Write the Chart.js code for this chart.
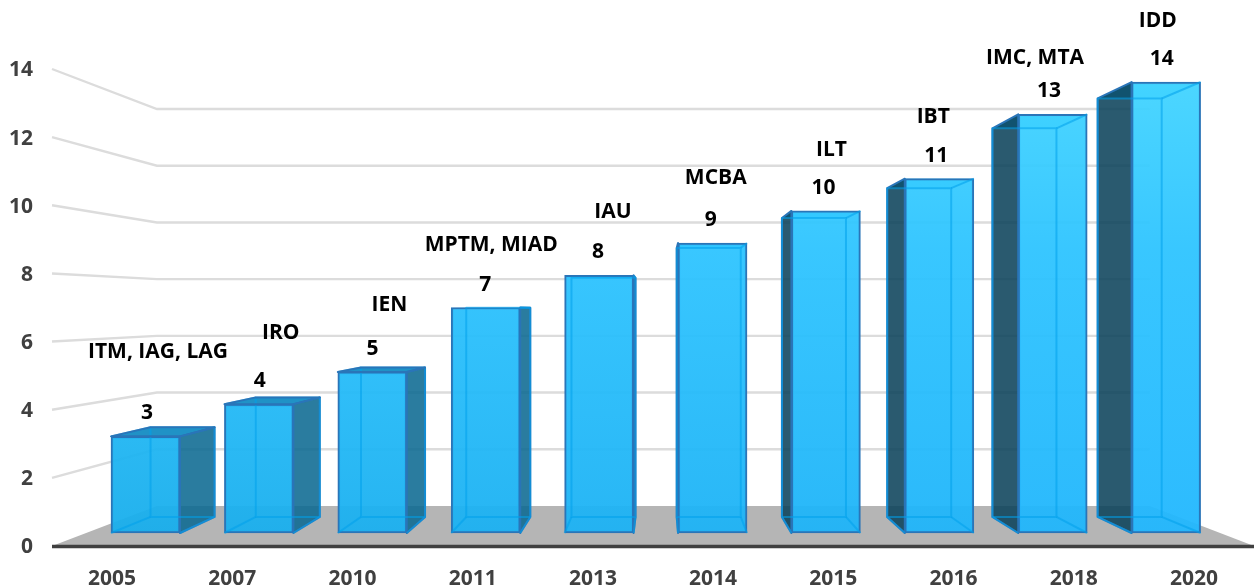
<!DOCTYPE html>
<html><head><meta charset="utf-8">
<style>html,body{margin:0;padding:0;background:#fff}canvas{display:block}</style>
<script src="https://cdn.jsdelivr.net/npm/chart.js@4"></script></head>
<body><canvas id="c" width="1254" height="587"></canvas>
<script>
const years = ['2005','2007','2010','2011','2013','2014','2015','2016','2018','2020'];
const values = [3,4,5,7,8,9,10,11,13,14];
const programs = ['ITM, IAG, LAG','IRO','IEN','MPTM, MIAD','IAU','MCBA','ILT','IBT','IMC, MTA','IDD'];
const yTicks = [0,2,4,6,8,10,12,14];

const FAMILY = '"Open Sans", Lato, sans-serif';
const FONT = 'bold 21px '+FAMILY;
const V = {x:660, y:310};         // vanishing point
const K_BACK = 0.928;             // bar back face scale
const W = {kx:0.826, ky:0.8323, vx:655, vy:307.5}; // back wall
const nameShift = [[11,-61],[21,-48],[17,-44],[6,-40],[15,-40],[5,-42],[8,-38],[-3,-39],[-14,-33],[-4,-38]];
const back = (x,y)=>({x:V.x+(x-V.x)*K_BACK, y:V.y+(y-V.y)*K_BACK});
const wall = (x,y)=>({x:W.vx+(x-W.vx)*W.kx, y:W.vy+(y-W.vy)*W.ky});
function poly(ctx,pts,fill,stroke,lw){
  ctx.beginPath();pts.forEach((p,i)=>i?ctx.lineTo(p.x,p.y):ctx.moveTo(p.x,p.y));ctx.closePath();
  if(fill){ctx.fillStyle=fill;ctx.fill();}
  if(stroke){ctx.strokeStyle=stroke;ctx.lineWidth=lw;ctx.lineJoin='round';ctx.stroke();}
}
function frontGrad(c){
  const i=c.dataIndex||0, g=c.chart.ctx.createLinearGradient(0,82,0,533);
  g.addColorStop(0,'rgba(66,212,255,0.95)');
  g.addColorStop(0.37,'rgba(46,196,255,0.95)');
  g.addColorStop(1,`rgba(${24+i},${174+i},${236+i*2},0.95)`);
  return g;
}
const stage = {
  id:'stage',
  beforeDatasetsDraw(chart){
    const ctx=chart.ctx,a=chart.chartArea,y=chart.scales.y;
    ctx.save();
    const wr=wall(a.right,0).x;
    yTicks.filter(t=>t>0).forEach(t=>{
      const py=y.getPixelForValue(t), b=wall(a.left,py);
      ctx.beginPath();ctx.moveTo(a.left,py);ctx.lineTo(b.x,b.y);ctx.lineTo(wr,b.y);
      ctx.strokeStyle='#dcdcdc';ctx.lineWidth=2.4;ctx.stroke();
    });
    const y0=y.getPixelForValue(0), fb=wall(a.left,y0), fr=wall(a.right,y0);
    poly(ctx,[{x:a.left,y:y0},fb,fr,{x:a.right,y:y0}],'#b5b5b5');
    ctx.beginPath();ctx.moveTo(a.left,y0+0.5);ctx.lineTo(a.right,y0+0.5);
    ctx.strokeStyle='#404040';ctx.lineWidth=3.5;ctx.stroke();
    chart.getDatasetMeta(0).data.forEach(el=>{
      const w=el.width/2,l=el.x-w,r=el.x+w,t=el.y,bt=el.base;
      const bl=back(l,t),br=back(r,t);
      const leftOfCentre=el.x<V.x;
      poly(ctx,[{x:l,y:t},{x:r,y:t},br,bl],el.x<420?'rgba(20,140,195,0.95)':'rgba(60,205,255,0.95)');
      const ex=leftOfCentre?r:l;
      const side=[{x:ex,y:t},back(ex,t),back(ex,bt),{x:ex,y:bt}];
      poly(ctx,side,leftOfCentre?'rgba(10,105,145,0.87)':'rgba(10,65,90,0.87)','#2a75b8',2);
    });
    ctx.restore();
  },
  afterDatasetsDraw(chart){
    const ctx=chart.ctx;
    ctx.save();
    chart.getDatasetMeta(0).data.forEach((el,i)=>{
      const w=el.width/2,l=el.x-w,r=el.x+w,t=el.y,bt=el.base;
      const bl=back(l,t),br=back(r,t),bbl=back(l,bt),bbr=back(r,bt);
      const inner='rgba(0,160,235,0.55)';
      poly(ctx,[bl,br,bbr,bbl],null,inner,2);
      [[{x:l,y:bt},bbl],[{x:r,y:bt},bbr],[{x:t<V.y?r:l,y:t},t<V.y?br:bl]].forEach(s=>{
        ctx.beginPath();ctx.moveTo(s[0].x,s[0].y);ctx.lineTo(s[1].x,s[1].y);
        ctx.strokeStyle=inner;ctx.lineWidth=2;ctx.stroke();});
      if(t>V.y) poly(ctx,[{x:l,y:t},{x:r,y:t},br,bl],null,'#2a75b8',2);
      ctx.fillStyle='#000';ctx.font=FONT;ctx.textAlign='center';ctx.textBaseline='middle';
      const lx=el.x+1.5-i*0.65, ly=t-23;
      ctx.fillText(String(values[i]),lx,ly);
      ctx.fillText(programs[i],lx+nameShift[i][0],ly+nameShift[i][1]);
    });
    ctx.restore();
  }
};
new Chart(document.getElementById('c'),{
  type:'bar',
  data:{labels:years,datasets:[{
    label:'Programs',
    xAxisID:'xBars',yAxisID:'yBars',
    data:values.map((v,i)=>({x:i,y:v})),
    backgroundColor:frontGrad,
    borderColor:'#2a75b8',borderWidth:2,borderSkipped:false,
    barThickness:69
  }]},
  options:{
    responsive:false,animation:false,
    layout:{padding:{top:69,left:0,right:0,bottom:0}},
    plugins:{legend:{display:false},tooltip:{enabled:false},title:{display:false}},
    scales:{
      x:{type:'category',labels:years,position:'bottom',grid:{display:false,drawTicks:false},border:{display:false},
         ticks:{color:'#404040',font:{family:FAMILY,size:21,weight:'bold'},padding:20,maxRotation:0,autoSkip:false},
         afterFit(s){s.height=41;}},
      y:{type:'linear',position:'left',min:0,max:14,grid:{display:false,drawTicks:false},border:{display:false},
         ticks:{stepSize:2,color:'#404040',font:{family:FAMILY,size:21,weight:'bold'},padding:19,labelOffset:1.5},
         afterFit(s){s.width=52;}},
      xBars:{type:'linear',display:false,min:-0.8245,max:9.775,position:'bottom',offset:false},
      yBars:{type:'linear',display:false,min:-0.4036,max:14.405,position:'left'}
    }
  },
  plugins:[stage]
});
</script></body></html>
